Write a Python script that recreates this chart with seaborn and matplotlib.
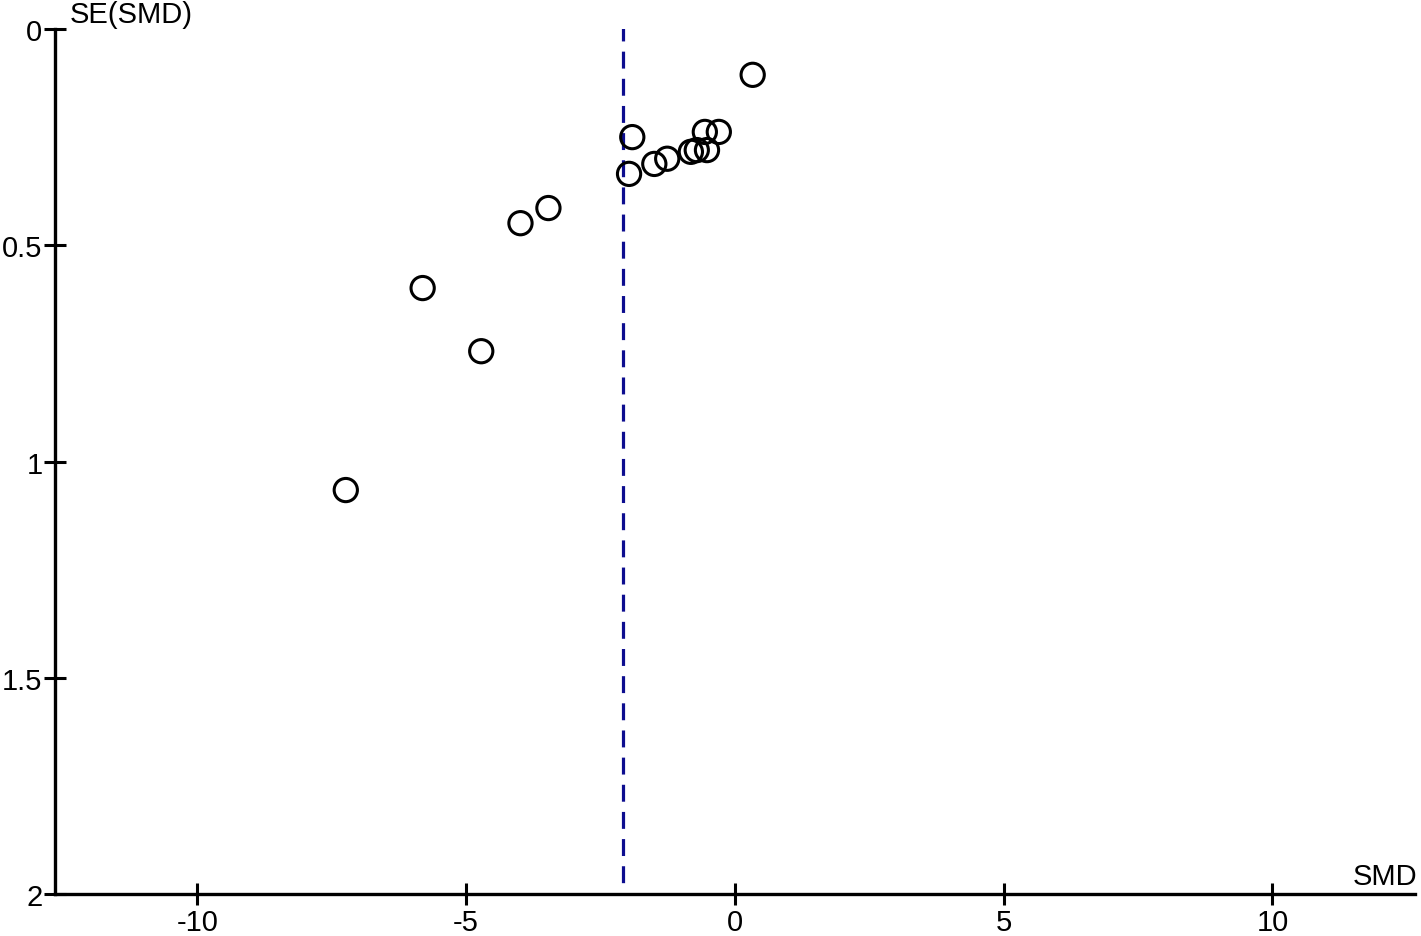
import numpy as np
import pandas as pd
import matplotlib
matplotlib.use('Agg')
import matplotlib.pyplot as plt
import seaborn as sns

# funnel plot data
smd = [0.33, -1.91, -0.56, -0.30, -1.97, -1.50, -1.26, -0.82, -0.71, -0.52,
       -3.47, -3.99, -5.81, -4.72, -7.24]
se_smd = [0.106, 0.250, 0.238, 0.238, 0.335, 0.312, 0.300, 0.284, 0.280, 0.280,
          0.414, 0.449, 0.599, 0.745, 1.066]
pooled_smd = -2.08
x_ticks = [-10, -5, 0, 5, 10]
y_ticks = [0, 0.5, 1, 1.5, 2]
y_tick_labels = ['0', '0.5', '1', '1.5', '2']

sns.set_style('white')
plt.rcParams['font.family'] = ['Liberation Sans', 'DejaVu Sans']
plt.rcParams['text.color'] = 'black'

df = pd.DataFrame({'SMD': smd, 'SE': se_smd})

fig = plt.figure(figsize=(14.21, 9.37), dpi=100)
ax = fig.add_axes([0.0387, 0.0448, 0.957, 0.9232])

sns.scatterplot(data=df, x='SMD', y='SE', ax=ax, s=280, marker='o',
                facecolor='none', edgecolor='black', linewidth=2.2, zorder=3)
ax.plot([pooled_smd, pooled_smd], [-0.012, 1.99], color='#0d0d8f', lw=2.3,
        dashes=(5.3, 3.2), zorder=2)

ax.set_xlim(-12.65, 12.65)
ax.set_ylim(2, 0)
ax.set_xticks(x_ticks)
ax.set_xticklabels([str(t) for t in x_ticks])
ax.set_yticks(y_ticks)
ax.set_yticklabels(y_tick_labels)
ax.tick_params(axis='both', direction='inout', length=16, width=2.2,
               labelsize=21, colors='black', bottom=True, left=True)
ax.tick_params(axis='x', pad=2)
ax.tick_params(axis='y', pad=1)

for side in ['top', 'right']:
    ax.spines[side].set_visible(False)
for side in ['left', 'bottom']:
    ax.spines[side].set_linewidth(2.4)
    ax.spines[side].set_color('black')

ax.set_xlabel('')
ax.set_ylabel('')
ax.text(70 / 1421, 1 - 15 / 937, 'SE(SMD)', transform=fig.transFigure,
        fontsize=21, ha='left', va='center', color='black')
ax.text(1417 / 1421, 1 - 877 / 937, 'SMD', transform=fig.transFigure,
        fontsize=21, ha='right', va='center', color='black')
for c in ax.collections:
    c.set_clip_on(False)

fig.savefig('out.png', dpi=100)
